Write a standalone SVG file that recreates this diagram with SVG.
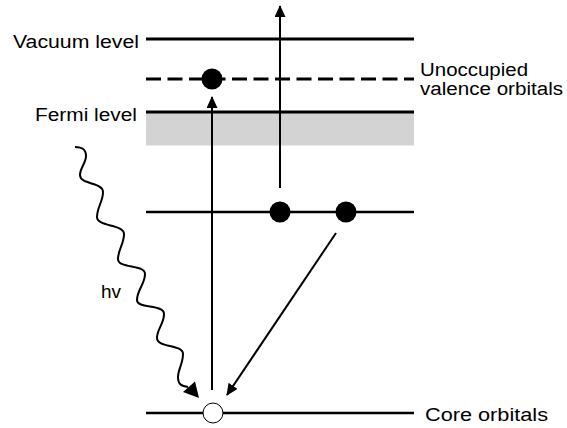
<svg xmlns="http://www.w3.org/2000/svg" width="567" height="428" viewBox="0 0 567 428">
  <style>
    .lbl { font-family: "Liberation Sans", Arial, sans-serif; font-size: 18px; fill: #000; }
    .lvl { stroke: #000; fill: none; }
    .arr { stroke: #000; stroke-width: 2; fill: none; }
    .dot { fill: #000; }
  </style>
  <defs>
    <marker id="ah" markerUnits="userSpaceOnUse" markerWidth="12" markerHeight="11" refX="11" refY="5.5" orient="auto">
      <path d="M0,0 L12,5.5 L0,11 z" fill="#000"/>
    </marker>
  </defs>
  <rect width="567" height="428" fill="#fff"/>

  <g id="vacuum-level">
    <line class="lvl" x1="146" y1="39" x2="414" y2="39" stroke-width="3"/>
    <text class="lbl" x="13" y="48" textLength="126" lengthAdjust="spacingAndGlyphs">Vacuum level</text>
  </g>
  <g id="unoccupied-valence">
    <line class="lvl" x1="146" y1="79" x2="414" y2="79" stroke-width="3" stroke-dasharray="15 6.5"/>
    <text class="lbl" x="420" y="76" textLength="108" lengthAdjust="spacingAndGlyphs">Unoccupied</text>
    <text class="lbl" x="420" y="95" textLength="143" lengthAdjust="spacingAndGlyphs">valence orbitals</text>
  </g>
  <g id="fermi-level">
    <rect x="146" y="113" width="268" height="32.5" fill="#d3d3d3"/>
    <line class="lvl" x1="146" y1="112" x2="414" y2="112" stroke-width="3"/>
    <text class="lbl" x="35" y="120.5" textLength="102" lengthAdjust="spacingAndGlyphs">Fermi level</text>
  </g>
  <g id="valence-level">
    <line class="lvl" x1="146" y1="212" x2="414" y2="212" stroke-width="2.5"/>
  </g>
  <g id="core-level">
    <line class="lvl" x1="146" y1="413" x2="414" y2="413" stroke-width="2.5"/>
    <text class="lbl" x="425" y="421" textLength="123" lengthAdjust="spacingAndGlyphs">Core orbitals</text>
  </g>

  <g id="connectors">
    <line class="arr" x1="212" y1="390" x2="212" y2="97" marker-end="url(#ah)"/>
    <line class="arr" x1="280" y1="188" x2="280" y2="6" marker-end="url(#ah)"/>
    <line class="arr" x1="336" y1="233" x2="227" y2="395" marker-end="url(#ah)"/>
    <path class="arr" stroke-width="2.5" d="M75,147 C82,147 86,149 86,156
      C86,163 80,168 80,175 C80,185 103,182 103,192
      C103,202 97,207 97,217 C97,227 124,224 124,234
      C124,244 118,250 118,259 C118,269 145,264 145,274
      C145,284 137,290 137,300 C137,309 164,304 164,314
      C164,324 157,329 157,338 C157,348 183,344 183,354
      C183,364 178,369 178,377 C178,385 182,386 188,387"/>
    <polygon points="183,392 195,381.5 199,398" fill="#000"/>
    <text class="lbl" x="101" y="298" textLength="20" lengthAdjust="spacingAndGlyphs">hv</text>
  </g>

  <g id="electron-excited"><circle class="dot" cx="212" cy="79" r="10.5"/></g>
  <g id="electron-1"><circle class="dot" cx="280" cy="212" r="10.5"/></g>
  <g id="electron-2"><circle class="dot" cx="346" cy="212" r="10.5"/></g>
  <g id="core-hole"><circle cx="213" cy="413" r="10" fill="#fff" stroke="#000" stroke-width="1"/></g>
</svg>
